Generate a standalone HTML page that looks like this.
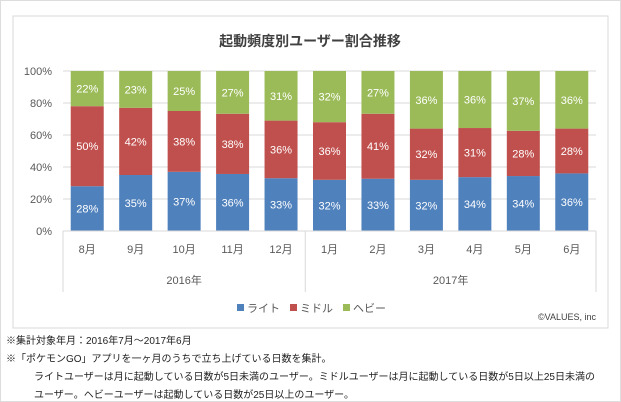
<!DOCTYPE html>
<html><head><meta charset="utf-8"><style>
body{margin:0;background:#fff;width:621px;height:402px;overflow:hidden;font-family:"Liberation Sans","Noto Sans CJK JP",sans-serif}
.note{position:absolute;font-size:10px;color:#222;white-space:nowrap}
</style></head><body>
<div style="position:absolute;left:0;top:0;width:619px;height:400px;border:1px solid #ddd"></div>
<svg id="chart" width="621" height="402" style="position:absolute;left:0;top:0" font-family="Liberation Sans, Noto Sans CJK JP, sans-serif">
<rect x="13" y="16" width="595" height="312" fill="#fff" stroke="#d9d9d9"/>
<text x="310" y="46" text-anchor="middle" font-size="14" font-weight="bold" fill="#404040">起動頻度別ユーザー割合推移</text>
<g id="grid"></g><g id="bars"></g><g id="axis"></g>
<g font-size="11" fill="#595959">
<rect x="237" y="304" width="7" height="7" fill="#4f81bd"/>
<text x="247" y="312">ライト</text>
<rect x="290" y="304" width="7" height="7" fill="#c0504d"/>
<text x="300" y="312">ミドル</text>
<rect x="343" y="304" width="7" height="7" fill="#9bbb59"/>
<text x="353" y="312">ヘビー</text>
</g>
<text x="596" y="320" text-anchor="end" font-size="9" fill="#404040">©VALUES, inc</text>
</svg>
<div class="note" style="left:6px;top:332px">※集計対象年月：2016年7月～2017年6月</div>
<div class="note" style="left:6px;top:350px">※「ポケモンGO」アプリを一ヶ月のうちで立ち上げている日数を集計。</div>
<div class="note" style="left:34px;top:368px">ライトユーザーは月に起動している日数が5日未満のユーザー。ミドルユーザーは月に起動している日数が5日以上25日未満の</div>
<div class="note" style="left:34px;top:386px">ユーザー。ヘビーユーザーは起動している日数が25日以上のユーザー。</div>
<script>
const months=["8月","9月","10月","11月","12月","1月","2月","3月","4月","5月","6月"];
const light=[28,35,37,36,33,32,33,32,34,34,36];
const middle=[50,42,38,38,36,36,41,32,31,28,28];
const heavy=[22,23,25,27,31,32,27,36,36,37,36];
const yTicks=[0,20,40,60,80,100];
const years=["2016年","2017年"];
const NS="http://www.w3.org/2000/svg";
const L=63,R=596,T=71,B=231,n=months.length,step=(R-L)/n,bw=33;
const y=v=>B-(v/100)*(B-T);
const xc=i=>L+step*(i+0.5);
function mk(tag,attrs,parent){const e=document.createElementNS(NS,tag);for(const k in attrs)e.setAttribute(k,attrs[k]);parent.appendChild(e);return e;}
const grid=document.getElementById('grid'),bars=document.getElementById('bars'),axis=document.getElementById('axis');
yTicks.forEach(t=>{
  if(t>0){const g=mk('line',{x1:L,x2:R,y1:y(t),y2:y(t),stroke:'#d9d9d9'},grid);
  
  }
  const tx=mk('text',{x:52,y:y(t)+4,'text-anchor':'end','font-size':11,fill:'#595959'},axis);tx.textContent=t+'%';
  
  
});
const series=[[light,'#4f81bd','light'],[middle,'#c0504d','middle'],[heavy,'#9bbb59','heavy']];
months.forEach((m,i)=>{
  const tot=light[i]+middle[i]+heavy[i];let acc=0;
  series.forEach(([arr,col,nm])=>{
    const v=arr[i]*100/tot;const y0=y(acc),y1=y(acc+v);
    const r=mk('rect',{x:xc(i)-bw/2,y:y1,width:bw,height:y0-y1,fill:col},bars);
    
    
    const t=mk('text',{x:xc(i),y:(y0+y1)/2+4,'text-anchor':'middle','font-size':11,fill:'#fff'},bars);t.textContent=arr[i]+'%';
    
    
    acc+=v;
  });
  const ml=mk('text',{x:xc(i),y:253,'text-anchor':'middle','font-size':11,fill:'#595959'},axis);ml.textContent=m;
  
  
});
mk('line',{x1:L,x2:R,y1:B,y2:B,stroke:'#d9d9d9'},axis);
[L,L+step*5,R].forEach(x=>{const l=mk('line',{x1:x,x2:x,y1:B,y2:292,stroke:'#d9d9d9'},axis);
  
  });
years.forEach((yr,k)=>{const cx=k==0?(L+L+step*5)/2:(L+step*5+R)/2;
  const t=mk('text',{x:cx,y:284,'text-anchor':'middle','font-size':11,fill:'#595959'},axis);t.textContent=yr;
  
  });
</script>
</body></html>
